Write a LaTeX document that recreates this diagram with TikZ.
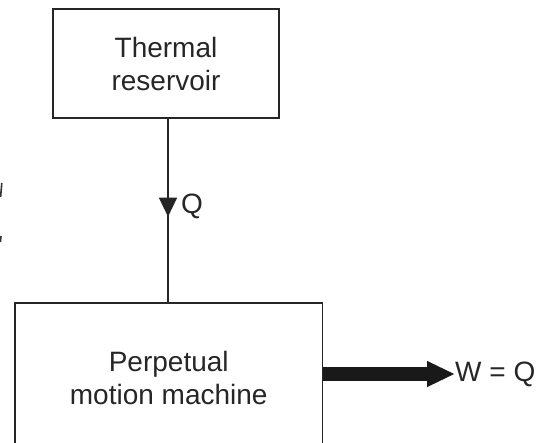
\documentclass[tikz,border=0pt]{standalone}
\usepackage{fontspec}
\setmainfont{Liberation Sans}
\usetikzlibrary{arrows.meta}
\begin{document}
\begin{tikzpicture}[x=1pt,y=-1pt,
  box/.style={draw=black!85,line width=1.6pt,align=center,inner sep=0pt,
    font=\fontsize{28}{33}\selectfont,text=black!85},
  lbl/.style={font=\fontsize{28}{33}\selectfont,text=black!85,inner sep=0pt},
  conn/.style={draw=black!85,line width=1.4pt}]
\useasboundingbox (0,0) rectangle (541,443);
\clip (0,0) rectangle (541,443);
\node[box,minimum width=226pt,minimum height=109pt] (res) at (166,63.5) {Thermal\\reservoir};
\node[box,minimum width=307.5pt,minimum height=150pt] (pmm) at (168.75,378) {Perpetual\\motion machine};
\coordinate (qtip) at (168,216.7);
\coordinate (resb) at (168,118);
\coordinate (pmmt) at (168,302.5);
\draw[conn] (resb) -- (pmmt);
\draw[conn,-{Triangle[length=19pt,width=18pt]}] (resb) -- (qtip);
\node[lbl,anchor=west] (q) at (181,206) {Q};
\node[lbl,anchor=west] (w) at (455,374) {W = Q};
\coordinate (wstart) at (pmm.east |- w.west);
\draw[black!90,line width=14pt,-{Triangle[length=28pt,width=24pt]}] (wstart) -- (w.west);
\draw[black!80,line width=1.6pt] (0.6,197) -- (1.8,183);
\draw[black!80,line width=1.6pt] (0.4,242) -- (1.0,236);
\end{tikzpicture}
\end{document}
